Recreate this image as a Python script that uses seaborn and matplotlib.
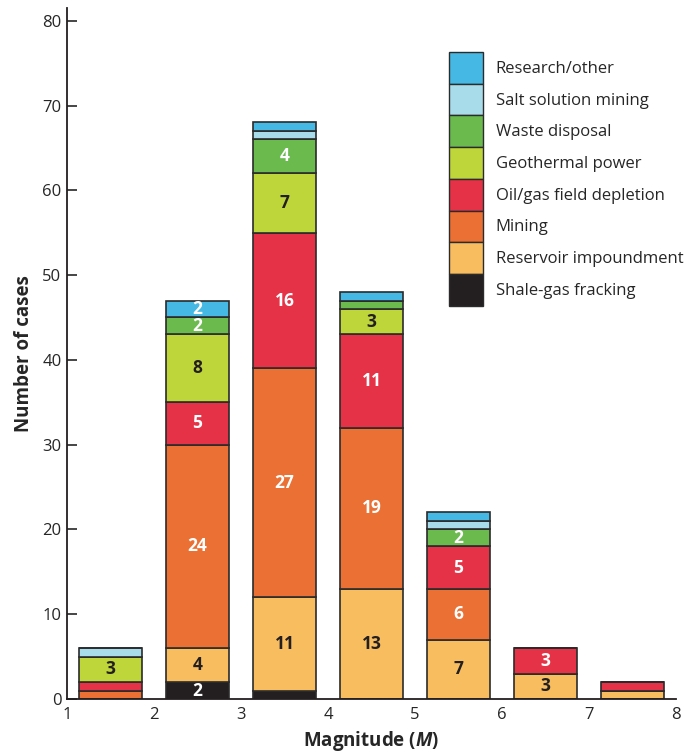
import numpy as np
import matplotlib
matplotlib.use('Agg')
import matplotlib.pyplot as plt
from matplotlib.patches import Patch
import seaborn as sns

# Data: induced earthquake cases by magnitude bin and source
bin_left = [1, 2, 3, 4, 5, 6, 7]
sources = ['Shale-gas fracking', 'Reservoir impoundment', 'Mining', 'Oil/gas field depletion',
           'Geothermal power', 'Waste disposal', 'Salt solution mining', 'Research/other']
shale = [0, 2, 1, 0, 0, 0, 0]
reservoir = [0, 4, 11, 13, 7, 3, 1]
mining = [1, 24, 27, 19, 6, 0, 0]
oil_gas = [1, 5, 16, 11, 5, 3, 1]
geothermal = [3, 8, 7, 3, 0, 0, 0]
waste = [0, 2, 4, 1, 2, 0, 0]
salt = [1, 0, 1, 0, 1, 0, 0]
research = [0, 2, 1, 1, 1, 0, 0]
series = [shale, reservoir, mining, oil_gas, geothermal, waste, salt, research]

colors = ['#231f20', '#f8bd5e', '#eb7033', '#e63247', '#bfd63b', '#6aba4e', '#a8dcea', '#45b8e3']
text_colors = ['white', '#231f20', 'white', 'white', '#231f20', 'white', 'white', 'white']

sns.set_style('ticks')
plt.rcParams['font.family'] = ['Open Sans', 'DejaVu Sans']
plt.rcParams['mathtext.fontset'] = 'custom'
plt.rcParams['mathtext.it'] = 'Open Sans:italic:bold'
plt.rcParams['mathtext.rm'] = 'Open Sans:bold'

fig = plt.figure(figsize=(6.84, 7.55), dpi=100)
ax = fig.add_axes([67 / 684, 56 / 755, (676 - 67) / 684, (699 - 8) / 755])

x = np.array(bin_left) + 0.5
bottom = np.zeros(len(x))
for vals, col, tcol in zip(series, colors, text_colors):
    vals = np.array(vals, dtype=float)
    ax.bar(x, vals, width=0.72, bottom=bottom, color=col, edgecolor='#2b2b2b', linewidth=1.2)
    for xi, v, b in zip(x, vals, bottom):
        if v >= 2:
            ax.text(xi, b + v / 2, f'{int(v)}', ha='center', va='center',
                    fontsize=12.5, fontweight='bold', color=tcol)
    bottom += vals

ax.set_xlim(1, 8)
ax.set_ylim(0, 81.5)
ax.set_xticks(range(1, 9))
ax.set_yticks(range(0, 81, 10))
ax.tick_params(axis='y', direction='in', length=7, width=1.2, labelsize=12, pad=4)
ax.tick_params(axis='x', length=0, labelsize=12, pad=6)
for s in ['top', 'right']:
    ax.spines[s].set_visible(False)
for s in ['left', 'bottom']:
    ax.spines[s].set_linewidth(1.3)
    ax.spines[s].set_color('#231f20')

ax.set_xlabel('Magnitude ($M$)', fontsize=13.5, fontweight='bold', labelpad=4)
ax.set_ylabel('Number of cases', fontsize=13.5, fontweight='bold', labelpad=6)

handles = [Patch(facecolor=c, edgecolor='#2b2b2b', linewidth=1.0) for c in colors][::-1]
ax.legend(handles, sources[::-1], loc='upper left',
          bbox_to_anchor=(449 / 684, 1 - 52 / 755), bbox_transform=fig.transFigure,
          frameon=False, fontsize=12, handlelength=2.05, handleheight=2.55,
          labelspacing=0, handletextpad=0.75, borderpad=0, borderaxespad=0)

plt.savefig('out.png', dpi=100)
plt.close()
